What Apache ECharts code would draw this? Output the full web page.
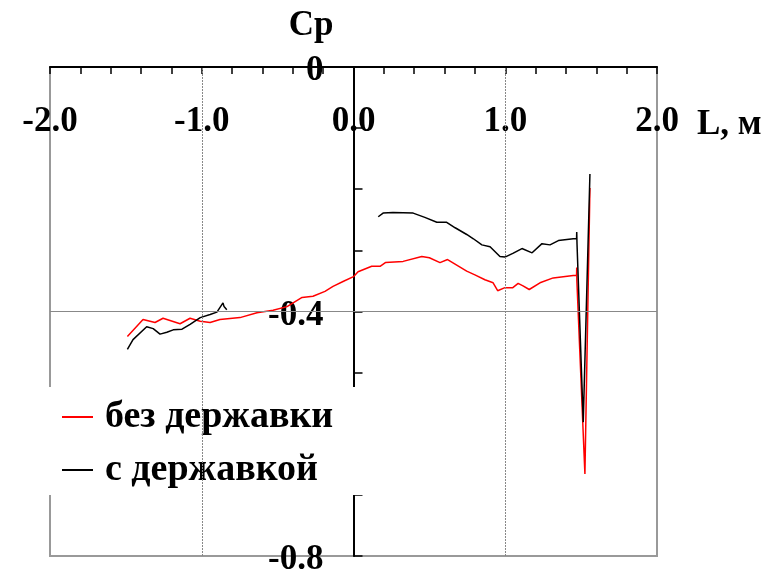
<!DOCTYPE html>
<html lang="ru">
  <head>
    <meta charset="UTF-8" />
    <title>Cp</title>
    <style>
      html, body { margin: 0; padding: 0; background: #fff; }
      #main { width: 777px; height: 575px; }
    </style>
  </head>
  <body>
    <div id="main"></div>
    <script src="https://cdn.jsdelivr.net/npm/echarts@6/dist/echarts.min.js"></script>
    <script>
      var chart = echarts.init(document.getElementById("main"), null, { renderer: "canvas" });

      // без державки
      var redL = [-1.49, -1.387, -1.308, -1.255, -1.143, -1.077, -1.01, -0.945, -0.88, -0.748, -0.636, -0.53, -0.438, -0.339, -0.267, -0.188, -0.135, -0.069, 0.0, 0.03, 0.12, 0.175, 0.21, 0.327, 0.45, 0.5, 0.57, 0.62, 0.746, 0.8, 0.866, 0.92, 0.95, 0.998, 1.05, 1.085, 1.117, 1.158, 1.229, 1.316, 1.448, 1.47, 1.471, 1.472, 1.525, 1.558];
      var redCp = [-0.441, -0.413, -0.418, -0.411, -0.42, -0.411, -0.416, -0.418, -0.413, -0.41, -0.402, -0.398, -0.392, -0.377, -0.375, -0.367, -0.359, -0.351, -0.343, -0.335, -0.326, -0.326, -0.32, -0.318, -0.31, -0.312, -0.32, -0.315, -0.334, -0.34, -0.348, -0.353, -0.366, -0.361, -0.361, -0.354, -0.358, -0.364, -0.353, -0.345, -0.341, -0.341, -0.328, -0.35, -0.666, -0.198];

      // с державкой (null = разрыв)
      var blackL = [-1.49, -1.453, -1.363, -1.32, -1.275, -1.23, -1.188, -1.13, -1.077, -1.01, -0.945, -0.9, -0.86, -0.853, -0.835, null, 0.163, 0.195, 0.26, 0.393, 0.47, 0.549, 0.614, 0.67, 0.746, 0.79, 0.846, 0.9, 0.965, 0.998, 1.05, 1.11, 1.177, 1.242, 1.295, 1.35, 1.448, 1.47, 1.471, 1.473, 1.514, 1.558];
      var blackCp = [-0.462, -0.446, -0.425, -0.428, -0.437, -0.434, -0.43, -0.429, -0.421, -0.41, -0.405, -0.401, -0.386, -0.392, -0.397, null, -0.245, -0.239, -0.238, -0.239, -0.246, -0.254, -0.254, -0.263, -0.274, -0.281, -0.291, -0.294, -0.31, -0.311, -0.305, -0.297, -0.304, -0.289, -0.291, -0.284, -0.281, -0.281, -0.27, -0.29, -0.581, -0.175];

      var yTickLabels = ["0", "-0.4", "-0.8"];
      var seriesNames = ["без державки", "с державкой"];

      function zip(xs, ys) {
        return xs.map(function (x, i) {
          return x === null ? ["-", "-"] : [x, ys[i]];
        });
      }

      var font = "Liberation Serif";
      var gridLeft = 50, gridRight = 120;
      var plotW = 777 - gridLeft - gridRight;

      var option = {
        backgroundColor: "#fff",
        animation: false,
        grid: {
          left: gridLeft,
          right: gridRight,
          top: 67,
          bottom: 19,
          containLabel: false,
          outerBoundsMode: "none",
          show: true,
          borderColor: "#999",
          borderWidth: 2,
        },
        legend: {
          orient: "vertical",
          left: 45,
          top: 387,
          padding: [11, 30, 6, 17],
          itemGap: 15,
          itemWidth: 31,
          itemHeight: 2,
          icon: "rect",
          backgroundColor: "#fff",
          data: seriesNames,
          textStyle: {
            fontFamily: font,
            fontWeight: "bold",
            fontSize: 38,
            color: "#000",
            padding: [0, 0, 0, 7],
          },
        },
        xAxis: {
          type: "value",
          position: "top",
          min: -2,
          max: 2,
          interval: 0.2,
          name: "L, м",
          nameLocation: "end",
          nameGap: 40,
          nameTextStyle: {
            fontFamily: font,
            fontWeight: "bold",
            fontSize: 35,
            color: "#000",
            verticalAlign: "top",
            padding: [40, 0, 0, 0],
          },
          axisLine: { onZero: false, lineStyle: { color: "#000", width: 2 } },
          axisTick: { inside: true, length: 7, lineStyle: { color: "#000", width: 1.5 } },
          splitLine: { show: false },
          axisLabel: {
            inside: true,
            margin: 37,
            showMinLabel: true,
            showMaxLabel: true,
            fontFamily: font,
            fontWeight: "bold",
            fontSize: 35,
            color: "#000",
            formatter: function (v) {
              return Math.abs(v - Math.round(v)) < 1e-6 ? v.toFixed(1) : "";
            },
          },
        },
        yAxis: {
          type: "value",
          position: "left",
          // put the axis on L = 0
          offset: -plotW / 2,
          min: -0.8,
          max: 0,
          interval: 0.1,
          name: "Cp",
          nameLocation: "end",
          nameGap: 24,
          nameTextStyle: {
            fontFamily: font,
            fontWeight: "bold",
            fontSize: 35,
            color: "#000",
            align: "right",
            padding: [0, 20, 0, 0],
          },
          axisLine: { onZero: false, lineStyle: { color: "#000", width: 2 } },
          axisTick: { inside: true, length: 9, lineStyle: { color: "#000", width: 1.5 } },
          splitLine: { show: false },
          axisLabel: {
            margin: 30,
            showMinLabel: true,
            showMaxLabel: true,
            formatter: function (v) {
              var k = Math.round(-v * 10);
              return k % 4 === 0 ? "{t|" + yTickLabels[k / 4] + "}" : "";
            },
            rich: {
              t: {
                fontFamily: font,
                fontWeight: "bold",
                fontSize: 35,
                color: "#000",
                padding: [8, 0, 0, 0],
              },
            },
          },
        },
        series: [
          {
            name: seriesNames[0],
            type: "line",
            symbol: "none",
            data: zip(redL, redCp),
            lineStyle: { color: "#ff0000", width: 1.5 },
            itemStyle: { color: "#ff0000" },
            markLine: {
              silent: true,
              symbol: "none",
              label: { show: false },
              data: [
                { xAxis: -1, lineStyle: { color: "#888", width: 1, type: [2, 1] } },
                { xAxis: 1, lineStyle: { color: "#888", width: 1, type: [2, 1] } },
                { yAxis: -0.4, lineStyle: { color: "#888", width: 1, type: "solid" } },
              ],
            },
            z: 2,
          },
          {
            name: seriesNames[1],
            type: "line",
            symbol: "none",
            connectNulls: false,
            data: zip(blackL, blackCp),
            lineStyle: { color: "#000", width: 1.5 },
            itemStyle: { color: "#000" },
            z: 3,
          },
        ],
      };

      chart.setOption(option);
    </script>
  </body>
</html>
